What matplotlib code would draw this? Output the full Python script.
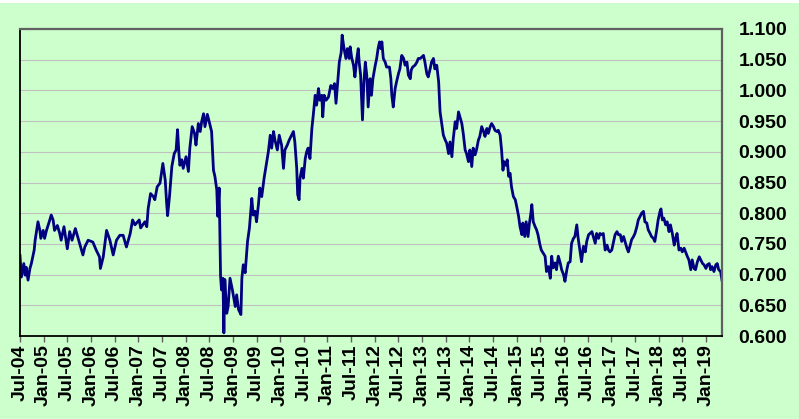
import matplotlib
matplotlib.use("Agg")
import matplotlib.pyplot as plt
from matplotlib.patches import Rectangle

# Decimal-year positions and AUD/USD values
years = [
    2004.50, 2004.53, 2004.58, 2004.61, 2004.63, 2004.67, 2004.71, 2004.74, 2004.80, 2004.82,
    2004.88, 2004.92, 2004.94, 2004.99, 2005.02, 2005.06, 2005.13, 2005.16, 2005.20, 2005.23,
    2005.29, 2005.34, 2005.37, 2005.43, 2005.50, 2005.55, 2005.60, 2005.67, 2005.76, 2005.83,
    2005.87, 2005.94, 2006.04, 2006.11, 2006.18, 2006.20, 2006.26, 2006.33, 2006.40, 2006.47,
    2006.54, 2006.61, 2006.68, 2006.75,
    2006.83, 2006.88, 2006.93, 2007.02, 2007.05, 2007.14, 2007.18, 2007.21, 2007.26, 2007.32,
    2007.35, 2007.40, 2007.46, 2007.52, 2007.57, 2007.60, 2007.62, 2007.66, 2007.71, 2007.76,
    2007.80, 2007.83, 2007.86, 2007.88, 2007.92, 2007.95, 2008.01, 2008.06, 2008.09, 2008.14,
    2008.19, 2008.22, 2008.27, 2008.31, 2008.34, 2008.38, 2008.41, 2008.46, 2008.50, 2008.55,
    2008.59, 2008.62, 2008.66, 2008.68, 2008.71, 2008.74, 2008.76, 2008.79, 2008.81, 2008.83,
    2008.87, 2008.90, 2008.94, 2008.99, 2009.05, 2009.08, 2009.12, 2009.17,
    2009.19, 2009.22, 2009.26, 2009.31, 2009.35, 2009.40, 2009.43, 2009.47, 2009.50, 2009.54,
    2009.57, 2009.61, 2009.66, 2009.70, 2009.75, 2009.79, 2009.82, 2009.86, 2009.89, 2009.94,
    2009.98, 2010.03, 2010.07, 2010.10, 2010.15, 2010.19, 2010.24, 2010.28, 2010.31, 2010.35,
    2010.37, 2010.40, 2010.42, 2010.46, 2010.49, 2010.53, 2010.56, 2010.59, 2010.63, 2010.67,
    2010.70, 2010.74, 2010.77, 2010.81, 2010.84, 2010.88, 2010.90, 2010.93, 2010.97, 2011.02,
    2011.07, 2011.11, 2011.15, 2011.18, 2011.21, 2011.25, 2011.29, 2011.31, 2011.35, 2011.39,
    2011.42, 2011.46,
    2011.48, 2011.51, 2011.55, 2011.58, 2011.62, 2011.65, 2011.67, 2011.70, 2011.74, 2011.77,
    2011.80, 2011.83, 2011.86, 2011.90, 2011.93, 2011.96, 2012.01, 2012.04, 2012.07, 2012.10,
    2012.13, 2012.15, 2012.18, 2012.22, 2012.25, 2012.31, 2012.34, 2012.36, 2012.39, 2012.43,
    2012.46, 2012.50, 2012.53, 2012.57, 2012.61, 2012.64, 2012.68, 2012.71, 2012.75, 2012.77,
    2012.80, 2012.85, 2012.89, 2012.92, 2012.96, 2012.99, 2013.03, 2013.06, 2013.10, 2013.13,
    2013.17, 2013.20, 2013.24, 2013.27, 2013.31, 2013.35, 2013.38, 2013.42, 2013.45, 2013.49,
    2013.52, 2013.56, 2013.59, 2013.63, 2013.66, 2013.70, 2013.73, 2013.77,
    2013.84, 2013.87, 2013.91, 2013.94, 2013.98, 2014.01, 2014.05, 2014.08, 2014.12, 2014.15,
    2014.19, 2014.22, 2014.26, 2014.30, 2014.33, 2014.37, 2014.40, 2014.44, 2014.47, 2014.51,
    2014.54, 2014.58, 2014.61, 2014.65, 2014.68, 2014.71, 2014.73, 2014.77, 2014.80, 2014.83,
    2014.86, 2014.89, 2014.93, 2014.97, 2015.00, 2015.04, 2015.07, 2015.11, 2015.13, 2015.17,
    2015.20, 2015.24, 2015.27, 2015.30, 2015.32, 2015.35, 2015.39, 2015.42, 2015.45, 2015.49,
    2015.52, 2015.56, 2015.60, 2015.63, 2015.67, 2015.71, 2015.74, 2015.77, 2015.81, 2015.84,
    2015.88, 2015.92, 2015.95, 2015.99, 2016.02, 2016.06, 2016.09, 2016.13, 2016.16, 2016.20,
    2016.23, 2016.27, 2016.30, 2016.37,
    2016.41, 2016.45, 2016.48, 2016.52, 2016.55, 2016.59, 2016.62, 2016.66, 2016.69, 2016.73,
    2016.76, 2016.80, 2016.83, 2016.87, 2016.91, 2016.94, 2016.97, 2017.01, 2017.05, 2017.08,
    2017.12, 2017.15, 2017.19, 2017.22, 2017.26, 2017.29, 2017.33, 2017.36, 2017.40, 2017.43,
    2017.47, 2017.50, 2017.54, 2017.57, 2017.61, 2017.64, 2017.68, 2017.71, 2017.75, 2017.78,
    2017.82, 2017.85, 2017.89, 2017.92, 2017.96, 2017.99, 2018.03, 2018.05, 2018.08, 2018.11,
    2018.15, 2018.18, 2018.22, 2018.25, 2018.29, 2018.33, 2018.36, 2018.39, 2018.43, 2018.47,
    2018.50, 2018.54, 2018.57, 2018.61, 2018.64, 2018.68, 2018.71, 2018.75, 2018.78, 2018.82,
    2018.86, 2018.89, 2018.93, 2018.96, 2019.00, 2019.03, 2019.07, 2019.10, 2019.13, 2019.17,
    2019.21, 2019.24, 2019.27, 2019.31, 2019.34,
]

rates = [
    0.731, 0.696, 0.718, 0.699, 0.712, 0.691, 0.710, 0.718, 0.740, 0.756,
    0.786, 0.772, 0.759, 0.772, 0.759, 0.772, 0.789, 0.797, 0.789, 0.772,
    0.780, 0.767, 0.756, 0.778, 0.742, 0.770, 0.756, 0.775, 0.751, 0.732,
    0.745, 0.756, 0.753, 0.740, 0.729, 0.710, 0.729, 0.772, 0.756, 0.732,
    0.756, 0.764, 0.764, 0.745,
    0.767, 0.789, 0.781, 0.789, 0.776, 0.786, 0.778, 0.808, 0.832, 0.827,
    0.822, 0.843, 0.849, 0.881, 0.854, 0.816, 0.796, 0.827, 0.876, 0.897,
    0.903, 0.936, 0.897, 0.878, 0.887, 0.873, 0.892, 0.868, 0.906, 0.941,
    0.930, 0.911, 0.946, 0.933, 0.949, 0.962, 0.941, 0.961, 0.949, 0.933,
    0.870, 0.860, 0.838, 0.795, 0.841, 0.697, 0.675, 0.694, 0.605, 0.692,
    0.637, 0.648, 0.694, 0.675, 0.648, 0.667, 0.643, 0.635,
    0.694, 0.716, 0.703, 0.754, 0.776, 0.824, 0.797, 0.803, 0.786, 0.814,
    0.841, 0.827, 0.857, 0.876, 0.900, 0.927, 0.906, 0.933, 0.919, 0.903,
    0.927, 0.911, 0.873, 0.903, 0.911, 0.919, 0.927, 0.933, 0.916, 0.873,
    0.830, 0.822, 0.857, 0.873, 0.857, 0.889, 0.900, 0.906, 0.889, 0.938,
    0.960, 0.992, 0.976, 1.003, 0.984, 0.992, 0.957, 0.992, 0.984, 0.989,
    1.008, 1.003, 1.011, 0.979, 1.008, 1.046, 1.062, 1.090, 1.068, 1.052,
    1.068, 1.052,
    1.071, 1.054, 1.041, 1.022, 1.052, 1.068, 1.046, 1.025, 0.952, 1.014,
    1.046, 1.025, 0.973, 1.019, 0.992, 1.019, 1.041, 1.052, 1.068, 1.079,
    1.068, 1.079, 1.052, 1.046, 1.038, 1.038, 1.019, 0.992, 0.973, 1.003,
    1.014, 1.027, 1.035, 1.057, 1.052, 1.041, 1.046, 1.025, 1.019, 1.033,
    1.038, 1.041, 1.046, 1.052, 1.052, 1.054, 1.057, 1.046, 1.027, 1.022,
    1.035, 1.046, 1.052, 1.035, 1.041, 1.014, 0.965, 0.943, 0.927, 0.919,
    0.914, 0.897, 0.916, 0.892, 0.922, 0.949, 0.938, 0.965,
    0.946, 0.930, 0.903, 0.897, 0.884, 0.903, 0.876, 0.906, 0.895, 0.903,
    0.919, 0.925, 0.941, 0.933, 0.925, 0.938, 0.930, 0.941, 0.946, 0.941,
    0.935, 0.933, 0.935, 0.927, 0.903, 0.870, 0.884, 0.878, 0.887, 0.860,
    0.865, 0.843, 0.827, 0.822, 0.811, 0.795, 0.778, 0.765, 0.784, 0.762,
    0.786, 0.762, 0.784, 0.800, 0.814, 0.786, 0.778, 0.773, 0.765, 0.749,
    0.740, 0.735, 0.730, 0.705, 0.713, 0.694, 0.730, 0.711, 0.719, 0.708,
    0.730, 0.719, 0.708, 0.700, 0.689, 0.708, 0.719, 0.721, 0.751, 0.759,
    0.762, 0.781, 0.759, 0.721,
    0.746, 0.737, 0.754, 0.765, 0.767, 0.770, 0.762, 0.751, 0.767, 0.759,
    0.767, 0.765, 0.767, 0.740, 0.748, 0.740, 0.737, 0.740, 0.754, 0.765,
    0.770, 0.765, 0.765, 0.754, 0.762, 0.754, 0.743, 0.737, 0.748, 0.757,
    0.762, 0.767, 0.778, 0.789, 0.795, 0.800, 0.803, 0.786, 0.784, 0.773,
    0.767, 0.762, 0.759, 0.754, 0.773, 0.789, 0.803, 0.807, 0.789, 0.792,
    0.781, 0.786, 0.770, 0.781, 0.767, 0.748, 0.759, 0.767, 0.740, 0.743,
    0.737, 0.743, 0.737, 0.729, 0.724, 0.708, 0.724, 0.710, 0.708, 0.721,
    0.729, 0.724, 0.718, 0.716, 0.710, 0.716, 0.718, 0.708, 0.713, 0.705,
    0.716, 0.718, 0.708, 0.705, 0.691,
]

tick_years = [2004.5 + 0.5 * i for i in range(30)]
tick_labels = [("Jul-" if i % 2 == 0 else "Jan-") + "%02d" % ((4 + (i + 1) // 2) % 100)
               for i in range(30)]
y_ticks = [0.600, 0.650, 0.700, 0.750, 0.800, 0.850, 0.900, 0.950, 1.000, 1.050, 1.100]

BG = "#CCFFCC"
plt.rcParams["font.family"] = ["Liberation Sans", "DejaVu Sans"]

fig = plt.figure(figsize=(7.99, 4.19), dpi=100, facecolor=BG)
fig.patches.append(Rectangle((0, 1 - 3 / 419), 1, 3 / 419, transform=fig.transFigure,
                             facecolor="white", edgecolor="none", zorder=-1))
ax = fig.add_axes([20 / 799, 1 - 336 / 419, 702 / 799, 307 / 419])
ax.set_facecolor(BG)

ax.plot(years, rates, color="#000080", linewidth=2.0, solid_joinstyle="round")

ax.set_xlim(2004.5, 2019.34)
ax.set_ylim(0.6, 1.1)
ax.set_yticks(y_ticks)
ax.set_yticklabels(["%.3f" % v for v in y_ticks], fontsize=14, fontweight="bold")
ax.yaxis.tick_right()
ax.tick_params(axis="y", length=0, pad=12)
ax.set_xticks(tick_years)
ax.set_xticklabels(tick_labels, rotation=90, fontsize=14, fontweight="bold")
ax.tick_params(axis="x", length=4, width=1, color="#606060", pad=2, direction="out")

ax.grid(axis="y", color="#C0C0C0", linewidth=0.8, linestyle="-")
ax.set_axisbelow(True)

ax.spines["left"].set_color("black")
ax.spines["left"].set_linewidth(1.3)
ax.spines["bottom"].set_color("black")
ax.spines["bottom"].set_linewidth(1.3)
ax.spines["top"].set_color("#606060")
ax.spines["top"].set_linewidth(1.6)
ax.spines["right"].set_color("#606060")
ax.spines["right"].set_linewidth(1.6)

fig.savefig("out.png", dpi=100, facecolor=BG)
